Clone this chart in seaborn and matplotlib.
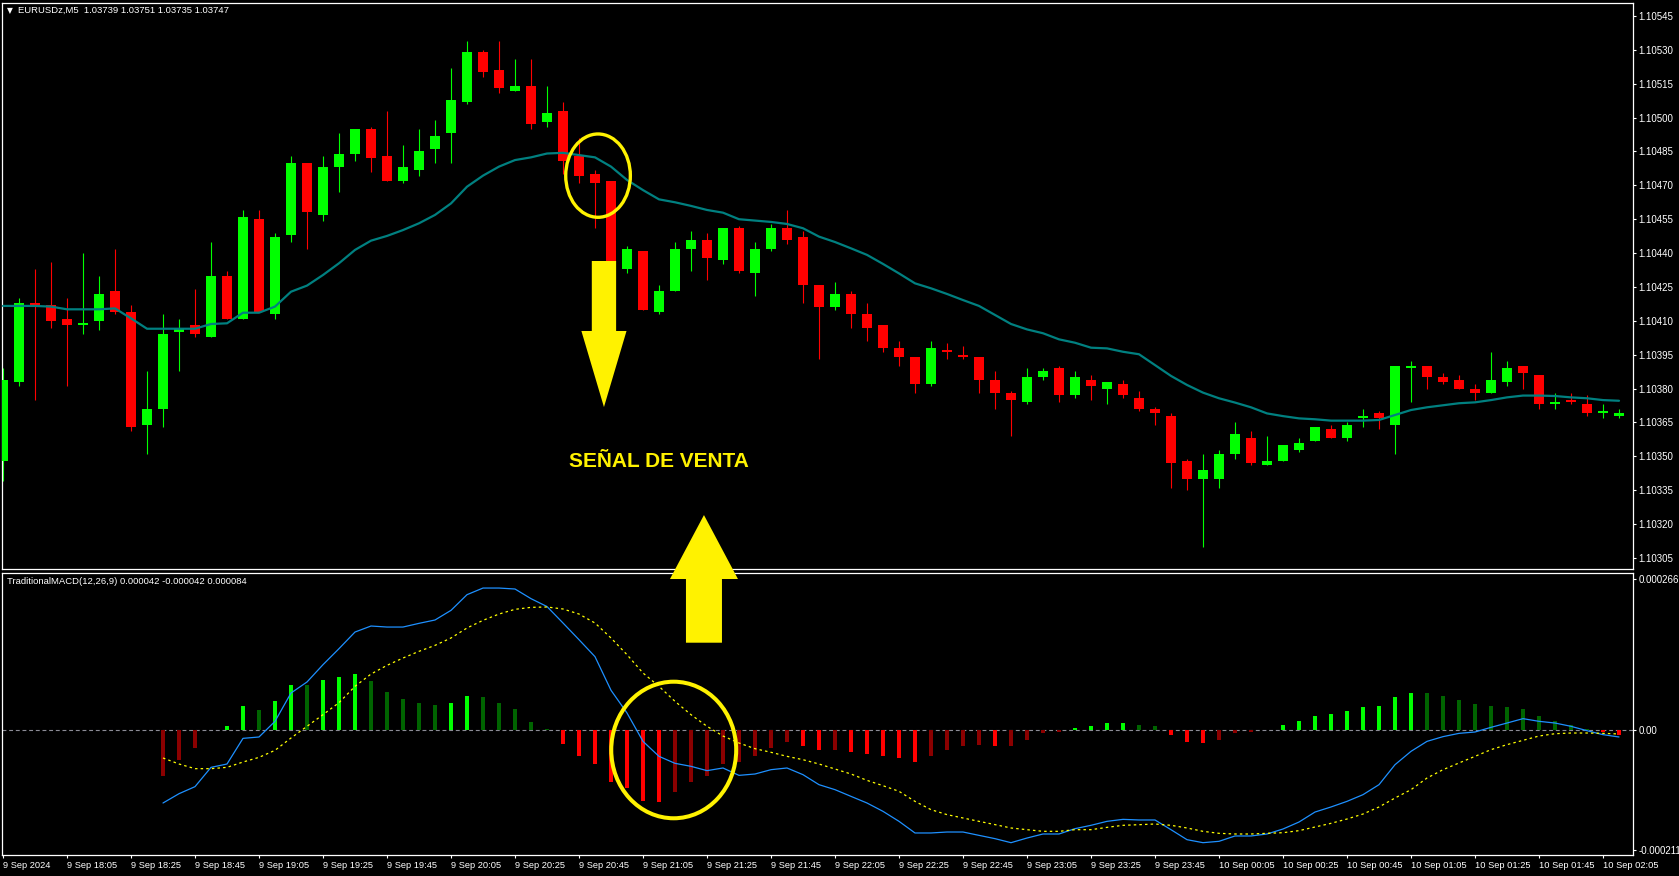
import numpy as np
import matplotlib
matplotlib.use("Agg")
import matplotlib.pyplot as plt
from matplotlib.patches import Ellipse, Polygon
import seaborn as sns

# =====================================
# DATA (EURUSD M5, one entry per bar)
# =====================================

opens = [1.10348, 1.10383, 1.10418, 1.10417, 1.10411, 1.10408, 1.10410, 1.10423, 1.10414, 1.10364,
         1.10371, 1.10405, 1.10408, 1.10403, 1.10430, 1.10411, 1.10455, 1.10413, 1.10448, 1.10480,
         1.10457, 1.10478, 1.10484, 1.10495, 1.10483, 1.10472, 1.10477, 1.10486, 1.10493, 1.10507,
         1.10529, 1.10521, 1.10512, 1.10514, 1.10498, 1.10503, 1.10483, 1.10475, 1.10472, 1.10433,
         1.10441, 1.10414, 1.10423, 1.10442, 1.10446, 1.10437, 1.10451, 1.10431, 1.10442, 1.10451,
         1.10447, 1.10426, 1.10416, 1.10422, 1.10413, 1.10408, 1.10398, 1.10394, 1.10382, 1.10397,
         1.10395, 1.10394, 1.10384, 1.10378, 1.10374, 1.10385, 1.10389, 1.10377, 1.10384, 1.10380,
         1.10382, 1.10376, 1.10371, 1.10368, 1.10348, 1.10340, 1.10340, 1.10351, 1.10358, 1.10346,
         1.10348, 1.10353, 1.10357, 1.10362, 1.10358, 1.10367, 1.10369, 1.10364, 1.10389, 1.10390,
         1.10385, 1.10384, 1.10380, 1.10378, 1.10383, 1.10390, 1.10386, 1.10373, 1.10375, 1.10373,
         1.10369, 1.10368]
highs = [1.10389, 1.10420, 1.10433, 1.10436, 1.10420, 1.10440, 1.10430, 1.10442, 1.10417, 1.10388,
         1.10413, 1.10411, 1.10424, 1.10445, 1.10432, 1.10459, 1.10459, 1.10449, 1.10483, 1.10480,
         1.10483, 1.10493, 1.10495, 1.10496, 1.10503, 1.10488, 1.10495, 1.10499, 1.10522, 1.10534,
         1.10530, 1.10534, 1.10526, 1.10526, 1.10514, 1.10507, 1.10491, 1.10477, 1.10472, 1.10443,
         1.10441, 1.10426, 1.10445, 1.10450, 1.10449, 1.10451, 1.10452, 1.10445, 1.10453, 1.10459,
         1.10450, 1.10426, 1.10427, 1.10423, 1.10418, 1.10408, 1.10401, 1.10394, 1.10401, 1.10400,
         1.10399, 1.10394, 1.10388, 1.10379, 1.10389, 1.10389, 1.10390, 1.10388, 1.10386, 1.10383,
         1.10384, 1.10379, 1.10372, 1.10369, 1.10349, 1.10351, 1.10353, 1.10365, 1.10361, 1.10359,
         1.10355, 1.10358, 1.10363, 1.10364, 1.10365, 1.10371, 1.10370, 1.10390, 1.10392, 1.10390,
         1.10387, 1.10386, 1.10382, 1.10396, 1.10392, 1.10390, 1.10386, 1.10378, 1.10378, 1.10377,
         1.10373, 1.10371]
lows = [1.10339, 1.10381, 1.10375, 1.10407, 1.10381, 1.10404, 1.10406, 1.10413, 1.10361, 1.10351,
        1.10363, 1.10388, 1.10403, 1.10403, 1.10411, 1.10411, 1.10414, 1.10411, 1.10445, 1.10442,
        1.10454, 1.10467, 1.10481, 1.10476, 1.10472, 1.10471, 1.10474, 1.10480, 1.10480, 1.10506,
        1.10518, 1.10511, 1.10512, 1.10495, 1.10496, 1.10475, 1.10471, 1.10451, 1.10433, 1.10431,
        1.10415, 1.10413, 1.10423, 1.10432, 1.10428, 1.10435, 1.10431, 1.10421, 1.10441, 1.10444,
        1.10418, 1.10393, 1.10415, 1.10407, 1.10401, 1.10396, 1.10390, 1.10378, 1.10381, 1.10393,
        1.10393, 1.10378, 1.10371, 1.10359, 1.10373, 1.10384, 1.10374, 1.10376, 1.10375, 1.10373,
        1.10376, 1.10370, 1.10364, 1.10336, 1.10335, 1.10310, 1.10336, 1.10349, 1.10346, 1.10346,
        1.10348, 1.10352, 1.10357, 1.10358, 1.10357, 1.10363, 1.10362, 1.10351, 1.10374, 1.10380,
        1.10382, 1.10380, 1.10375, 1.10378, 1.10381, 1.10380, 1.10371, 1.10371, 1.10373, 1.10368,
        1.10367, 1.10367]
closes = [1.10384, 1.10418, 1.10416, 1.10410, 1.10408, 1.10409, 1.10422, 1.10414, 1.10363, 1.10371,
          1.10404, 1.10407, 1.10404, 1.10430, 1.10411, 1.10456, 1.10414, 1.10447, 1.10480, 1.10458,
          1.10478, 1.10484, 1.10495, 1.10482, 1.10472, 1.10478, 1.10485, 1.10492, 1.10508, 1.10529,
          1.10520, 1.10513, 1.10514, 1.10497, 1.10502, 1.10481, 1.10474, 1.10471, 1.10434, 1.10442,
          1.10415, 1.10423, 1.10442, 1.10446, 1.10438, 1.10451, 1.10432, 1.10442, 1.10451, 1.10446,
          1.10426, 1.10416, 1.10422, 1.10413, 1.10407, 1.10398, 1.10394, 1.10382, 1.10398, 1.10396,
          1.10394, 1.10384, 1.10378, 1.10375, 1.10385, 1.10388, 1.10377, 1.10385, 1.10381, 1.10383,
          1.10377, 1.10371, 1.10369, 1.10347, 1.10340, 1.10344, 1.10351, 1.10360, 1.10347, 1.10348,
          1.10355, 1.10356, 1.10363, 1.10358, 1.10364, 1.10368, 1.10367, 1.10390, 1.10390, 1.10385,
          1.10383, 1.10380, 1.10378, 1.10384, 1.10389, 1.10387, 1.10373, 1.10374, 1.10374, 1.10369,
          1.10370, 1.10369]

# teal moving average on the price panel
ma_line = [1.104166, 1.104166, 1.104166, 1.104163, 1.104151, 1.104151, 1.104151, 1.104155, 1.104111, 1.104065,
           1.104065, 1.104065, 1.104065, 1.104086, 1.104089, 1.104136, 1.104136, 1.104163, 1.104229, 1.104256,
           1.104303, 1.104355, 1.104414, 1.104455, 1.104476, 1.104502, 1.104532, 1.104569, 1.104620, 1.104694,
           1.104743, 1.104783, 1.104812, 1.104824, 1.104841, 1.104844, 1.104834, 1.104824, 1.104783, 1.104724,
           1.104679, 1.104638, 1.104625, 1.104609, 1.104591, 1.104579, 1.104550, 1.104544, 1.104538, 1.104529,
           1.104510, 1.104473, 1.104449, 1.104421, 1.104392, 1.104352, 1.104310, 1.104266, 1.104244, 1.104219,
           1.104192, 1.104166, 1.104126, 1.104086, 1.104062, 1.104045, 1.104018, 1.104003, 1.103981, 1.103978,
           1.103963, 1.103952, 1.103904, 1.103856, 1.103816, 1.103782, 1.103757, 1.103738, 1.103717, 1.103690,
           1.103678, 1.103668, 1.103664, 1.103658, 1.103658, 1.103658, 1.103661, 1.103683, 1.103705, 1.103717,
           1.103726, 1.103735, 1.103739, 1.103749, 1.103761, 1.103769, 1.103769, 1.103767, 1.103761, 1.103757,
           1.103749, 1.103746]

# MACD(12,26,9) values in millionths, starting at bar 10
MACD_START = 10
macd_main = [-128.6, -112.2, -99.8, -65.8, -59.9, -14.7, -12.3, 15.3, 65.2, 84.6,
             115.1, 143.3, 172.6, 183.2, 181.4, 181.4, 187.9, 193.8, 210.8, 238.4,
             250.1, 250.1, 248.4, 231.4, 217.5, 188.5, 159.1, 129.2, 70.0, 30.0,
             -20.0, -46.4, -58.7, -64.0, -71.6, -66.9, -79.9, -77.5, -69.9, -66.9,
             -78.7, -96.3, -105.1, -116.9, -128.6, -143.3, -160.9, -181.4, -181.4, -179.7,
             -179.7, -185.6, -191.4, -198.5, -190.3, -183.2, -183.2, -173.8, -167.9, -160.9,
             -157.4, -158.5, -158.5, -175.6, -193.2, -198.5, -196.1, -186.7, -186.7, -183.2,
             -174.4, -162.1, -144.5, -135.6, -125.7, -113.9, -96.3, -61.1, -37.6, -20.0,
             -11.7, -5.9, -3.5, 4.7, 12.3, 20.0, 15.3, 12.3, 6.5, -1.2,
             -8.2, -12.3]
macd_signal = [-49.3, -59.9, -68.1, -68.1, -65.8, -56.4, -48.2, -35.8, -14.1, 6.5,
               27.0, 48.2, 76.9, 98.6, 113.9, 126.8, 138.6, 149.1, 162.1, 179.7,
               193.2, 204.3, 212.6, 216.1, 216.7, 213.2, 204.3, 188.5, 162.1, 132.7,
               100.4, 76.9, 50.5, 27.0, 6.5, -10.6, -22.9, -32.9, -39.3, -46.4,
               -52.3, -59.9, -68.7, -77.5, -88.7, -98.1, -108.0, -125.7, -140.3, -149.1,
               -155.0, -160.9, -166.7, -172.6, -175.6, -178.5, -178.5, -175.6, -175.6, -171.5,
               -167.9, -166.8, -165.6, -167.9, -172.6, -178.5, -182.0, -183.2, -183.2, -182.0,
               -180.9, -177.3, -170.9, -164.4, -156.8, -148.0, -135.6, -119.8, -105.1, -84.6,
               -69.9, -58.1, -46.4, -34.6, -25.8, -18.2, -10.6, -6.5, -5.3, -5.3,
               -5.9, -7.0]
macd_hist = [-80.4, -52.3, -32.3, 0.3, 7.6, 42.9, 35.8, 51.7, 79.9, 79.3,
             88.7, 94.0, 99.2, 86.9, 67.5, 55.2, 48.2, 44.6, 48.2, 60.5,
             58.7, 48.2, 37.6, 14.7, 1.0, -24.1, -45.2, -59.3, -92.2, -102.8,
             -124.5, -126.2, -108.6, -91.0, -80.4, -60.5, -57.0, -46.4, -31.1, -21.7,
             -27.6, -35.8, -35.0, -39.3, -41.7, -46.4, -48.7, -55.8, -45.2, -35.8,
             -27.6, -27.0, -28.5, -27.6, -17.0, -5.9, -3.5, 3.5, 7.6, 12.9,
             13.2, 9.4, 7.6, -8.2, -20.6, -22.3, -17.0, -4.5, -3.5, 0.6,
             9.4, 16.4, 25.2, 28.8, 34.1, 41.1, 42.9, 58.7, 65.8, 65.2,
             60.5, 53.4, 46.4, 42.9, 41.1, 37.6, 25.2, 16.4, 9.4, 2.3,
             -3.5, -8.2]

price_ticks = [1.10305, 1.10320, 1.10335, 1.10350, 1.10365, 1.10380, 1.10395, 1.10410, 1.10425,
               1.10440, 1.10455, 1.10470, 1.10485, 1.10500, 1.10515, 1.10530, 1.10545]
macd_ticks = [0.000266, 0.0, -0.000211]
macd_tick_labels = ["0.000266", "0.00", "-0.000211"]

time_tick_bars = list(range(0, 101, 4))
time_labels = ["9 Sep 2024", "9 Sep 18:05", "9 Sep 18:25", "9 Sep 18:45", "9 Sep 19:05",
               "9 Sep 19:25", "9 Sep 19:45", "9 Sep 20:05", "9 Sep 20:25", "9 Sep 20:45",
               "9 Sep 21:05", "9 Sep 21:25", "9 Sep 21:45", "9 Sep 22:05", "9 Sep 22:25",
               "9 Sep 22:45", "9 Sep 23:05", "9 Sep 23:25", "9 Sep 23:45", "10 Sep 00:05",
               "10 Sep 00:25", "10 Sep 00:45", "10 Sep 01:05", "10 Sep 01:25", "10 Sep 01:45",
               "10 Sep 02:05"]

# =====================================
# STYLE
# =====================================
BULL, BEAR = "#00ff00", "#ff0000"
TEAL = "#008080"
DKGREEN, DKRED = "#006400", "#8b0000"
BLUE = "#1e90ff"
YELLOW = "#fff200"

W, H, DPI = 1679, 876, 100


def px_rect(x0, y0, x1, y1):
    """Pixel box (from top-left) -> figure fraction rect."""
    return [x0 / W, 1 - y1 / H, (x1 - x0) / W, (y1 - y0) / H]


def arrow_points(xc, y_tail, y_neck, y_tip, shaft_hw, head_hw):
    return [(xc - shaft_hw, y_tail), (xc + shaft_hw, y_tail), (xc + shaft_hw, y_neck),
            (xc + head_hw, y_neck), (xc, y_tip), (xc - head_hw, y_neck), (xc - shaft_hw, y_neck)]


sns.set_theme(style="ticks", rc={"axes.facecolor": "black", "figure.facecolor": "black",
                                  "axes.edgecolor": "white", "axes.grid": False})
plt.rcParams["font.family"] = ["Liberation Sans", "DejaVu Sans"]

fig = plt.figure(figsize=(W / DPI, H / DPI), dpi=DPI, facecolor="black")
ax = fig.add_axes(px_rect(2, 3, 1633, 569))
axm = fig.add_axes(px_rect(2, 573, 1633, 855))

# ---- price panel: candles + MA
o, h, l, c = map(np.array, (opens, highs, lows, closes))
bars = np.arange(len(o))
cols = np.where(c >= o, BULL, BEAR)
ax.vlines(bars, l, h, colors=cols, linewidth=0.8, zorder=2)
ax.bar(bars, np.abs(c - o), bottom=np.minimum(o, c), width=0.67, color=cols,
       linewidth=0, zorder=3)
sns.lineplot(x=bars, y=ma_line, ax=ax, color=TEAL, linewidth=1.6, zorder=4)

# ---- MACD panel
mx = np.arange(MACD_START, MACD_START + len(macd_hist))
hist = np.array(macd_hist) * 1e-6
prev = np.concatenate([[hist[0]], hist[:-1]])
hcols = np.where(hist >= 0, np.where(hist > prev, BULL, DKGREEN),
                 np.where(hist < prev, BEAR, DKRED))
axm.axhline(0, color="#8c8c96", linewidth=0.8, linestyle=(0, (3.5, 2.5)), zorder=1)
axm.bar(mx, hist, width=0.19, color=hcols, linewidth=0, zorder=2)
sns.lineplot(x=mx, y=np.array(macd_main) * 1e-6, ax=axm, color=BLUE, linewidth=0.9, zorder=3)
sns.lineplot(x=mx, y=np.array(macd_signal) * 1e-6, ax=axm, color="yellow", linewidth=0.9,
             linestyle=(0, (2, 2.5)), zorder=3)

# ---- axes limits / ticks
for a in (ax, axm):
    a.set_xlim(-0.0625, 101.875)
    a.set_xlabel("")
    a.set_ylabel("")
    a.yaxis.tick_right()
    a.tick_params(colors="white", labelcolor="white", labelsize=7, length=2.5,
                  width=0.8, direction="out", pad=1.5)
    for s in a.spines.values():
        s.set_color("white")
        s.set_linewidth(0.9)

ax.set_ylim(1.1030009, 1.1055076)
ax.set_yticks(price_ticks)
ax.set_yticklabels([f"{p:.5f}" for p in price_ticks])
ax.set_xticks([])

axm.set_ylim(-220.2e-6, 276.6e-6)
axm.set_yticks(macd_ticks)
axm.set_yticklabels(macd_tick_labels)
axm.set_xticks(time_tick_bars)
axm.set_xticklabels(time_labels, fontsize=6.7)
for lbl in axm.get_xticklabels():
    lbl.set_horizontalalignment("left")

# ---- annotations
ax.add_patch(Ellipse((37.19, 1.104743), 4.04, 0.000369, fill=False, edgecolor=YELLOW,
                     linewidth=2.4, zorder=6))
ax.add_patch(Polygon(arrow_points(37.56, 1.104365, 1.104055, 1.103718, 0.76, 1.41),
                     closed=True, facecolor=YELLOW, edgecolor="none", zorder=7))
ax.text(40.97, 1.103477, "SEÑAL DE VENTA", ha="center", va="center", color=YELLOW,
        fontsize=15, fontweight="bold", zorder=7)

axm.add_patch(Ellipse((41.92, -35.2e-6), 7.81, 240.6e-6, fill=False, edgecolor=YELLOW,
                      linewidth=2.9, zorder=6))
axm.add_patch(Polygon(arrow_points(43.81, 153.8e-6, 266.0e-6, 378.7e-6, 1.125, 2.125),
                      closed=True, facecolor=YELLOW, edgecolor="none", zorder=10,
                      clip_on=False))

# ---- header texts
fig.text(6.5 / W, 1 - 10.5 / H, "▼", family="DejaVu Sans", size=5.5, color="white", va="center")
fig.text(18 / W, 1 - 10.5 / H, "EURUSDz,M5  1.03739 1.03751 1.03735 1.03747",
         size=6.8, color="white", va="center")
fig.text(7 / W, 1 - 581.5 / H, "TraditionalMACD(12,26,9) 0.000042 -0.000042 0.000084",
         size=6.8, color="white", va="center")

fig.savefig("out.png", dpi=DPI, facecolor="black")
